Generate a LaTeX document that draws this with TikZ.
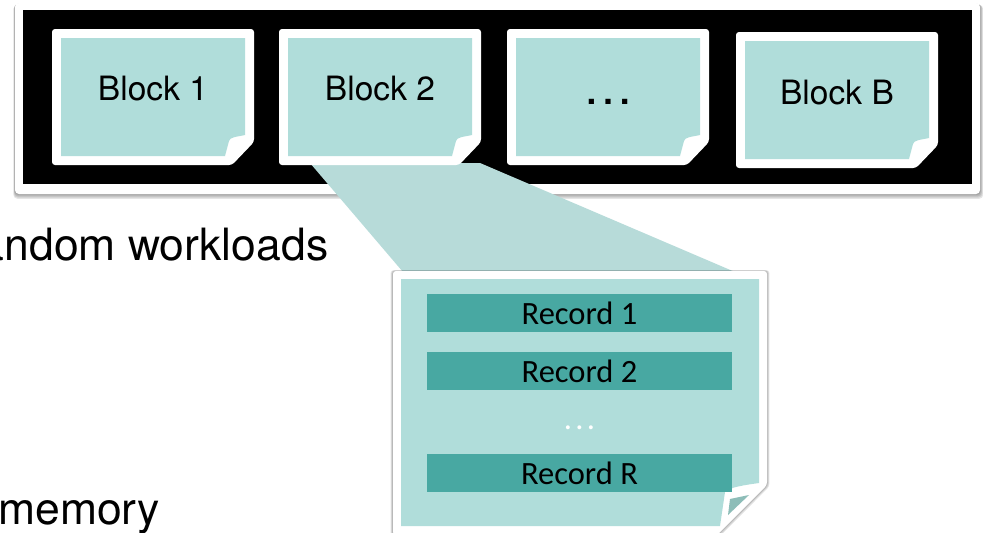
\documentclass[tikz,border=0pt]{standalone}
\usepackage{fontspec}
\setmainfont{TeX Gyre Heros}
\newfontfamily\recfont{Carlito}
\definecolor{blockfill}{RGB}{176,221,218}
\definecolor{calloutfill}{RGB}{183,219,217}
\definecolor{recfill}{RGB}{72,168,162}
\definecolor{folddark}{RGB}{141,189,184}
\tikzset{
  blocktext/.style={anchor=base, inner sep=0pt, font=\fontsize{33.5}{40}\selectfont},
  dotstext/.style={anchor=base, inner sep=0pt, font=\fontsize{50}{56}\selectfont},
  sidetext/.style={anchor=base west, inner sep=0pt, font=\fontsize{44.5}{52}\selectfont},
  recbar/.style={fill=recfill, inner sep=0pt, minimum width=305pt, minimum height=38pt,
    text height=22pt, text depth=0pt, font=\recfont\fontsize{32.5}{38}\selectfont},
  recdots/.style={text=white, inner sep=0pt, anchor=base, font=\recfont\fontsize{32.5}{38}\selectfont},
  softshadow/.style={fill=black, opacity=0.10},
  smallblock/.pic={
    \fill[white, rounded corners=3] (0,0) -- (202,0) -- (202,113) -- (180,136) -- (0,136) -- cycle;
    \fill[blockfill] (9,9) -- (193,9) -- (193,106)
      .. controls (184,108) and (178,108) .. (177,112) -- (173,127) -- (9,127) -- cycle;
  }
}
\begin{document}
\begin{tikzpicture}[x=1pt, y=-1pt]
\useasboundingbox (0,0) rectangle (983,533);
\begin{scope}
\clip (0,0) rectangle (983,533);
% outer frame with soft shadow
\foreach \k in {1,2,3,4} {
  \fill[softshadow, rounded corners=4] (15-0.4*\k,3+0.5*\k) rectangle (980+0.8*\k,194+1.2*\k);
}
\fill[white, rounded corners=4] (15,3) rectangle (980,194);
\fill[black] (23,10) rectangle (972,184);
% zoom callout
\fill[calloutfill] (310,163) -- (480,163) -- (735,272) -- (403,272) -- cycle;
% blocks
\pic at (52,29) {smallblock};
\pic at (279,29) {smallblock};
\pic at (507,29) {smallblock};
\pic at (736,32) {smallblock};
\node[blocktext] (b1) at (153,100) {Block 1};
\node[blocktext] (b2) at (380,100) {Block 2};
\node[dotstext] (b3) at (608,104) {…};
\node[blocktext] (bB) at (837,104) {Block B};
% side texts (cropped by the picture's left edge, as in the reference)
\node[sidetext] (t1) at (-35,260) {random workloads};
\node[sidetext] (t2) at (-2,524) {memory};
% big block
\foreach \k in {1,2,3} {
  \fill[softshadow, rounded corners=3] (393-0.8*\k,271-0.3*\k) -- (767+0.8*\k,271-0.3*\k)
    -- (767+0.8*\k,485+0.5*\k) -- (717+0.6*\k,535+0.8*\k) -- (393-0.8*\k,535+0.8*\k) -- cycle;
}
\fill[white, rounded corners=3] (393,271) -- (767,271) -- (767,485) -- (717,535) -- (393,535) -- cycle;
\fill[blockfill] (401,279) -- (759,279) -- (759,483)
  .. controls (745,485) and (730,487) .. (725,492) -- (720,526) -- (401,526) -- cycle;
\fill[folddark] (730,499) -- (749,495) -- (728,515) -- cycle;
% records
\node[recbar] (r1) at (579.5,313) {Record 1};
\node[recbar] (r2) at (579.5,371) {Record 2};
\node[recdots] (rd) at (579.5,429) {.\hspace{3.3pt}.\hspace{3.3pt}.};
\node[recbar] (rR) at (579.5,473) {Record R};
\end{scope}
\end{tikzpicture}
\end{document}
